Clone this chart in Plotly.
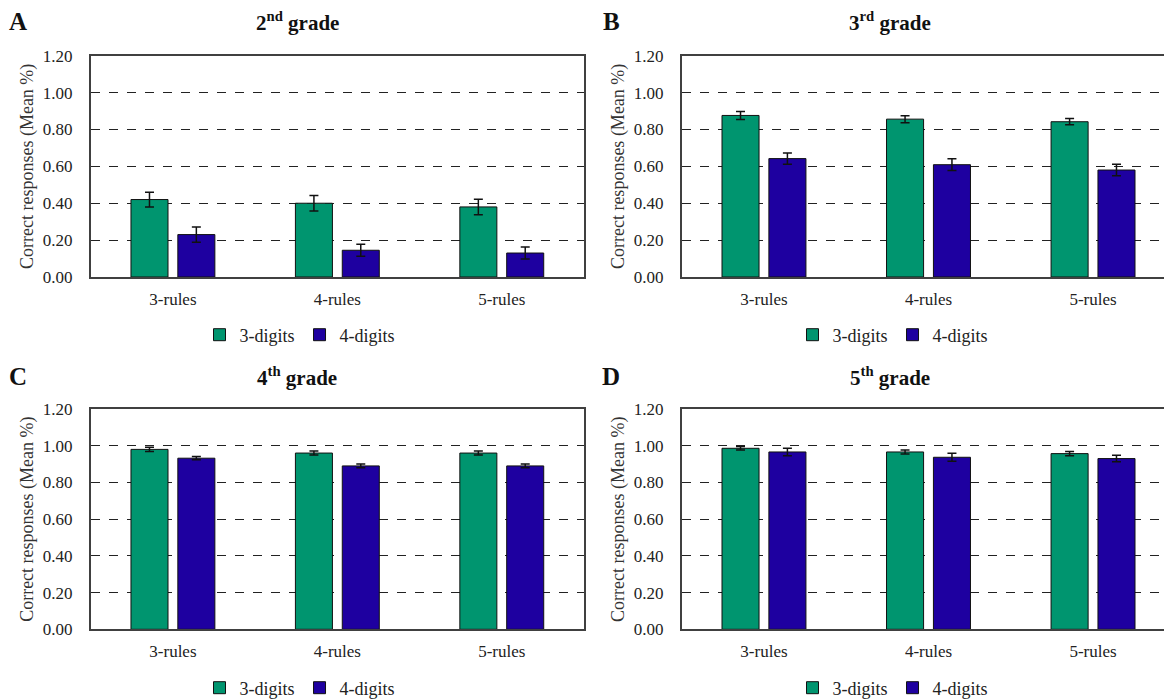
import plotly.graph_objects as go

categories = ["3-rules", "4-rules", "5-rules"]
series_names = ["3-digits", "4-digits"]
panel_letters = ["A", "B", "C", "D"]
panel_titles = ["2<sup>nd</sup> grade", "3<sup>rd</sup> grade", "4<sup>th</sup> grade", "5<sup>th</sup> grade"]

# means [panel][series][category]
a_3digits = [0.42, 0.40, 0.38]
a_4digits = [0.23, 0.145, 0.13]
b_3digits = [0.876, 0.856, 0.842]
b_4digits = [0.642, 0.609, 0.58]
c_3digits = [0.98, 0.96, 0.96]
c_4digits = [0.932, 0.89, 0.89]
d_3digits = [0.986, 0.966, 0.957]
d_4digits = [0.966, 0.937, 0.93]

# error bar half-widths
a_3digits_err = [0.04, 0.042, 0.042]
a_4digits_err = [0.041, 0.032, 0.032]
b_3digits_err = [0.022, 0.019, 0.017]
b_4digits_err = [0.031, 0.032, 0.031]
c_3digits_err = [0.011, 0.011, 0.011]
c_4digits_err = [0.009, 0.01, 0.01]
d_3digits_err = [0.01, 0.011, 0.011]
d_4digits_err = [0.02, 0.022, 0.018]

y_tickvals = [0.0, 0.2, 0.4, 0.6, 0.8, 1.0, 1.2]
y_ticktext = ["0.00", "0.20", "0.40", "0.60", "0.80", "1.00", "1.20"]

means = [(a_3digits, a_4digits), (b_3digits, b_4digits), (c_3digits, c_4digits), (d_3digits, d_4digits)]
errs = [(a_3digits_err, a_4digits_err), (b_3digits_err, b_4digits_err),
        (c_3digits_err, c_4digits_err), (d_3digits_err, d_4digits_err)]

colors = ["#00956F", "#1E00A0"]
FONT = "Liberation Serif"
OFF = 8  # page body margin
W, H = 1172 - OFF, 699 - OFF


def fx(x):
    return (x - OFF) / W


def fy(y):
    return 1 - (y - OFF) / H


# pixel layout of the plot areas (screen coordinates)
xdoms = [(90.7, 584.0), (681.7, 1172.0), (90.7, 584.0), (681.7, 1172.0)]
ydoms = [(55.7, 277.0), (55.7, 277.0), (409.0, 629.3), (409.0, 629.3)]
xranges = [[-0.5, 2.5], [-0.5, 2.5 - 3.3 / 164.4], [-0.5, 2.5], [-0.5, 2.5 - 3.3 / 164.4]]

fig = go.Figure()
layout = dict(width=W, height=H, margin=dict(l=0, r=0, t=0, b=0, pad=0, autoexpand=False),
              paper_bgcolor="white", plot_bgcolor="white",
              barmode="group", bargap=0.43, bargroupgap=0.21,
              font=dict(family=FONT, color="#222222", size=17),
              annotations=[])

legend_pos = [(300, 335), (893, 335), (300, 688), (893, 688)]
title_pos = [(297, 22), (890, 22), (297, 376), (890, 376)]
letter_pos = [(18, 22), (611, 22), (18, 376), (611, 376)]

for p in range(4):
    sfx = "" if p == 0 else str(p + 1)
    lg = "legend" if p == 0 else "legend" + str(p + 1)
    for s in range(2):
        fig.add_trace(go.Bar(
            x=categories, y=means[p][s], name=series_names[s],
            marker=dict(color=colors[s], line=dict(color="#111111", width=1)),
            error_y=dict(type="data", array=errs[p][s], color="#111111", thickness=1.5, width=4.5),
            xaxis="x" + sfx, yaxis="y" + sfx, legend=lg, offsetgroup=str(s),
        ))
    x0, x1 = xdoms[p]
    y0, y1 = ydoms[p]
    layout["xaxis" + sfx] = dict(
        domain=[max(fx(x0), 0), min(fx(x1), 1)], range=xranges[p], anchor="y" + sfx,
        showline=True, linecolor="#404040", linewidth=1.5, mirror=True,
        ticks="", showgrid=False, tickfont=dict(size=17, family=FONT, color="#222222"),
        ticklabelstandoff=6, fixedrange=True, automargin=False,
    )
    layout["yaxis" + sfx] = dict(
        domain=[fy(y1), fy(y0)], range=[0, 1.2], anchor="x" + sfx,
        tickvals=y_tickvals, ticktext=y_ticktext,
        showline=True, linecolor="#404040", linewidth=1.5, mirror=(p % 2 == 0),
        showgrid=True, gridcolor="#222222", gridwidth=1, griddash="dash",
        ticks="", tickfont=dict(size=17, family=FONT, color="#222222"),
        ticklabelstandoff=13, zeroline=False, fixedrange=True, automargin=False,
        title=dict(text="Correct responses (Mean %)", font=dict(size=18, family=FONT, color="#333333"), standoff=4),
    )
    lx, ly = legend_pos[p]
    layout[lg] = dict(x=fx(lx), y=fy(ly), xanchor="center", yanchor="middle",
                      orientation="h", font=dict(size=18, family=FONT, color="#222222"),
                      itemwidth=30, tracegroupgap=0, bgcolor="rgba(0,0,0,0)")
    tx, ty = title_pos[p]
    layout["annotations"].append(dict(
        text="<b>" + panel_titles[p] + "</b>", x=fx(tx), y=fy(ty), xref="paper", yref="paper",
        showarrow=False, font=dict(size=21, family=FONT, color="#111111"), xanchor="center", yanchor="middle"))
    px, py = letter_pos[p]
    layout["annotations"].append(dict(
        text="<b>" + panel_letters[p] + "</b>", x=fx(px), y=fy(py), xref="paper", yref="paper",
        showarrow=False, font=dict(size=25, family=FONT, color="#111111"), xanchor="center", yanchor="middle"))

fig.update_layout(**layout)
fig.write_html("out.html")
